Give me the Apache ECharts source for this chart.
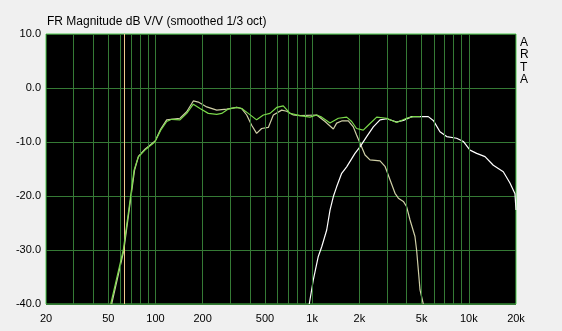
<!DOCTYPE html>
<html><head><meta charset="utf-8">
<script src="https://cdn.jsdelivr.net/npm/echarts@6/dist/echarts.min.js"></script>
<style>html,body{margin:0;padding:0;background:#f0f0f0}#c{width:562px;height:331px}</style>
</head><body><div id="c"></div>
<script>
const titleText = 'FR Magnitude dB V/V (smoothed 1/3 oct)';
const sideText = 'A\nR\nT\nA';
const xTickValues = [20, 50, 100, 200, 500, 1000, 2000, 5000, 10000, 20000];
const xTickLabels = ['20', '50', '100', '200', '500', '1k', '2k', '5k', '10k', '20k'];
const gridFreqs = [30, 40, 50, 60, 70, 80, 90, 100, 200, 300, 400, 500, 600, 700, 800, 900,
  1000, 2000, 3000, 4000, 5000, 6000, 7000, 8000, 9000, 10000];
const markerFreq = [63];

// Sum (green)
const sumFreq = [51.8, 62.3, 69.4, 73, 77.5, 85.6, 99, 108, 117.9, 126.9, 143.3, 158.2, 174.3, 192.3,
  217.3, 245.9, 264.5, 291.6, 329.8, 355, 391, 442, 488, 538, 594, 654, 722, 836, 968, 1069, 1151,
  1300, 1469, 1660, 1787, 1920, 2119, 2280, 2581, 2990, 3460, 4010, 4420, 4880];
const sumDb = [-40, -30, -20, -15.2, -12.8, -11.5, -10, -7.8, -6.2, -5.8, -5.9, -4.7, -3.0, -3.8,
  -4.7, -4.9, -4.7, -3.9, -3.6, -3.8, -4.7, -5.9, -5.0, -4.7, -3.6, -3.3, -4.7, -5.1, -5.4, -5.0, -5.4,
  -6.5, -5.6, -5.4, -6.2, -7.5, -7.8, -6.9, -5.4, -5.6, -6.4, -5.6, -5.3, -5.3];

// Woofer (tan)
const wooferFreq = [52.5, 62.8, 69.8, 73.5, 78, 86, 99.5, 108, 117.9, 143.3, 158.2, 174.3, 187.6,
  212.3, 245.9, 284.8, 329.8, 355, 382, 411, 442, 476, 525, 565, 639, 687, 758, 836, 1069, 1208,
  1365, 1433, 1543, 1700, 1830, 1920, 2019, 2175, 2339, 2710, 2916, 3140, 3380, 3550, 3820, 4010,
  4210, 4530, 4640, 4760, 4880, 5120];
const wooferDb = [-40, -30, -20, -15.2, -12.6, -11.3, -9.8, -7.6, -5.9, -5.6, -4.4, -2.4, -2.6,
  -3.5, -4.1, -3.9, -3.6, -3.8, -5.0, -6.9, -8.4, -7.5, -7.3, -5.0, -4.1, -4.3, -5.0, -5.1, -5.0, -6.2,
  -7.6, -6.5, -6.1, -6.1, -7.2, -8.7, -10.2, -12.4, -13.3, -13.5, -14.5, -17.0, -19.5, -20.4, -21.0, -22.0,
  -24.4, -27.5, -30.0, -33.7, -37.4, -40];

// Tweeter (white)
const tweeterFreq = [958, 1016, 1094, 1151, 1238, 1300, 1365, 1433, 1543, 1660, 1876, 2019, 2228,
  2456, 2710, 2990, 3460, 3820, 4320, 5510, 5930, 6540, 7220, 8360, 9220, 10170, 11220, 12680,
  14330, 16590, 18300, 19700, 20000];
const tweeterDb = [-40, -35.6, -31.2, -29.4, -26.3, -22.6, -20.1, -18.3, -15.8, -14.6, -12.1, -10.9, -9.0,
  -7.2, -5.9, -5.7, -6.3, -6.0, -5.3, -5.3, -6.0, -8.1, -9.0, -9.3, -9.9, -11.5, -12.1, -12.7,
  -14.3, -15.5, -17.6, -19.6, -22.6];

const pair = (f, d) => f.map((v, i) => [v, d[i]]);
const FONT = 'Liberation Sans, Arial, sans-serif';
const GRID = '#357a35';

const chart = echarts.init(document.getElementById('c'), null, {renderer: 'canvas'});
chart.setOption({
  backgroundColor: '#f0f0f0',
  animation: false,
  title: {
    text: titleText, left: 47, top: 16, padding: 0,
    textStyle: {fontFamily: FONT, fontSize: 12, fontWeight: 'normal', color: '#000'}
  },
  graphic: [{
    type: 'text', left: 520, top: 36,
    style: {text: sideText, font: '12px ' + FONT, fill: '#000', lineHeight: 12.5}
  }],
  grid: {left: 46, right: 46, top: 34, bottom: 27, show: true,
    backgroundColor: '#000', borderColor: '#4cc84c', borderWidth: 1},
  xAxis: {
    type: 'log', logBase: 10, min: 20, max: 20000,
    axisLine: {show: false}, axisTick: {show: false},
    splitLine: {show: false}, minorSplitLine: {show: false},
    axisLabel: {
      customValues: xTickValues, margin: 9,
      fontFamily: FONT, fontSize: 11, color: '#000',
      formatter: v => {
        let best = 0;
        xTickValues.forEach((t, i) => { if (Math.abs(Math.log10(t / v)) < Math.abs(Math.log10(xTickValues[best] / v))) best = i; });
        return xTickLabels[best];
      }
    }
  },
  yAxis: {
    type: 'value', min: -40, max: 10, interval: 10,
    axisLine: {show: false}, axisTick: {show: false},
    splitLine: {show: true, lineStyle: {color: GRID, width: 1}},
    axisLabel: {margin: 5, fontFamily: FONT, fontSize: 11, color: '#000', formatter: v => v.toFixed(1)}
  },
  series: [
    {
      type: 'line', data: [], z: 1, silent: true,
      markLine: {
        silent: true, symbol: 'none', label: {show: false},
        lineStyle: {color: GRID, width: 1, type: 'solid'},
        data: gridFreqs.map(f => ({xAxis: f}))
      }
    },
    {
      type: 'line', data: [], z: 2, silent: true,
      markLine: {
        silent: true, symbol: 'none', label: {show: false},
        lineStyle: {color: '#f0c88c', width: 1, type: 'solid'},
        data: markerFreq.map(f => ({xAxis: f}))
      }
    },
    {type: 'line', data: pair(wooferFreq, wooferDb), z: 3, showSymbol: false, smooth: false,
      lineStyle: {color: '#cfcfa6', width: 1.2}},
    {type: 'line', data: pair(tweeterFreq, tweeterDb), z: 4, showSymbol: false,
      lineStyle: {color: '#ffffff', width: 1.2}},
    {type: 'line', data: pair(sumFreq, sumDb), z: 5, showSymbol: false,
      lineStyle: {color: '#7ad84a', width: 1.2}}
  ]
});
</script>
</body></html>
